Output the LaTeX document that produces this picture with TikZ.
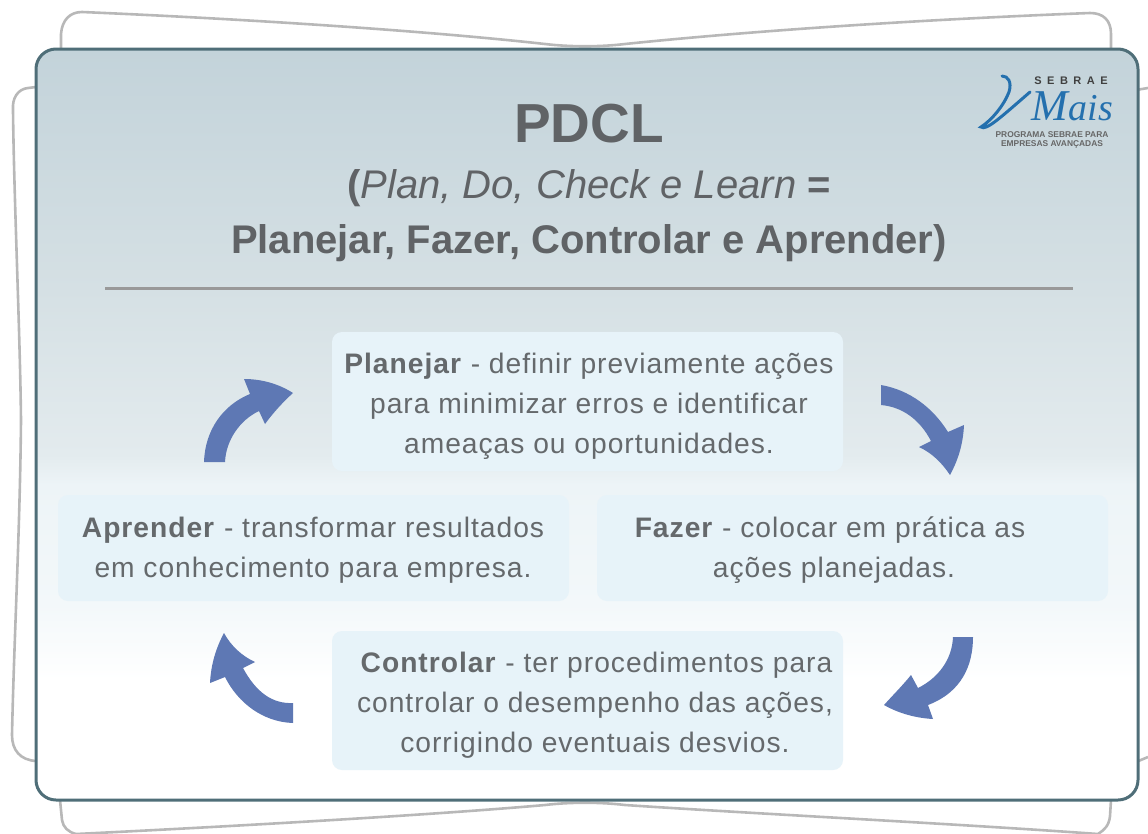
\documentclass[tikz,border=0pt]{standalone}
\usepackage{fontspec}
\setmainfont{Liberation Sans}
\newfontfamily\bodyf[LetterSpace=3.5]{Liberation Sans}
\newfontfamily\logof{Liberation Serif}
\definecolor{edgec}{HTML}{4F6E78}
\definecolor{backc}{HTML}{B8B8B8}
\definecolor{arrowc}{HTML}{5E78B4}
\definecolor{titlec}{HTML}{606366}
\definecolor{bodyc}{HTML}{65696C}
\definecolor{boxc}{HTML}{E7F3F9}
\definecolor{logoc}{HTML}{2470AE}
\definecolor{gA}{HTML}{F3F8FA}
\definecolor{gB}{HTML}{EDF4F7}
\definecolor{gC}{HTML}{E3EBEE}
\definecolor{gD}{HTML}{D5E0E4}
\definecolor{gE}{HTML}{C3D3DA}
\pgfdeclareverticalshading{cardshade}{100bp}{
 color(0bp)=(white); color(25bp)=(white); color(33bp)=(white);
 color(38bp)=(gA); color(46bp)=(gB); color(48bp)=(gC);
 color(59bp)=(gD); color(75bp)=(gE); color(100bp)=(gE)}
\tikzset{
 x=1pt,y=-1pt,
 backline/.style={draw=backc,line width=2.6pt,line join=round},
 cardbox/.style={fill=boxc,rounded corners=10pt},
 flow/.style={fill=arrowc},
 bodytext/.style={font=\bodyf\fontsize{28.2}{40}\selectfont,text=bodyc,align=center,inner sep=0pt},
}
\begin{document}
\begin{tikzpicture}
\useasboundingbox (0,0) rectangle (1148,833);
% back sheets
\draw[backline] (61,50) -- (61,34) .. controls (62,20) and (70,12) .. (82,12) .. controls (200,17) and (400,28) .. (545,44) .. controls (570,47) and (600,47) .. (625,44) .. controls (780,28) and (960,18) .. (1090,13) .. controls (1103,13) and (1111,20) .. (1111,34) -- (1111,50);
\draw[backline] (36,87) -- (28,88) .. controls (18,89) and (12,98) .. (13,110) .. controls (14,200) and (20,330) .. (21,420) .. controls (20,530) and (14,640) .. (12,735) .. controls (12,750) and (20,760) .. (36,761);
\draw[backline] (1136,90) -- (1148,88);
\draw[backline] (1136,762) -- (1148,757);
\draw[backline] (60,800) -- (62,820) .. controls (63,827) and (68,832) .. (76,834) .. controls (200,828) and (420,816) .. (545,805) .. controls (570,802) and (600,802) .. (625,805) .. controls (760,814) and (960,824) .. (1098,834) .. controls (1104,830) and (1109,826) .. (1110,816) -- (1111,800);
% main card
\shade[shading=cardshade,rounded corners=20pt] (36,49) rectangle (1138,800);
\draw[edgec,line width=3pt,rounded corners=20pt] (36,49) rectangle (1138,800);
% logo
\node[inner sep=0pt,font=\bfseries\fontsize{11}{12}\selectfont,text=black!75] (logoa) at (1071,81) {S\,\,\,E\,\,\,B\,\,\,R\,\,\,A\,\,\,E};
\node[inner sep=0pt,text=logoc,font=\logof\itshape,anchor=base east] (logob) at (1113,120) {{\fontsize{44}{44}\selectfont M}{\fontsize{38}{38}\selectfont ais}};
\draw[logoc,line width=3pt,line cap=round] (1002,76) .. controls (1008,76) and (1012,82) .. (1009,92) .. controls (1004,105) and (992,120) .. (981,127) .. controls (986,131) and (1000,118) .. (1030,92);
\node[inner sep=0pt,align=center,text=black!60,font=\bfseries\fontsize{8.4}{9}\selectfont] (logoc) at (1052,140) {PROGRAMA SEBRAE PARA\\EMPRESAS AVANÇADAS};
% title
\node[inner sep=0pt,text=titlec,font=\bfseries\fontsize{55}{60}\selectfont] (title) at (589,124) {PDCL};
\node[inner sep=0pt,text=titlec,font=\fontsize{40}{44}\selectfont] (sub) at (589,188) {\textbf{(}\textit{Plan, Do, Check e Learn} \textbf{=}};
\node[inner sep=0pt,text=titlec,font=\bfseries\fontsize{40}{44}\selectfont] (subb) at (589,243) {Planejar, Fazer, Controlar e Aprender)};
\coordinate (ruleL) at (105,288);
\coordinate (ruleR) at (1073,288);
\draw[gray!80,line width=3pt] (ruleL) -- (ruleR);
% boxes
\fill[cardbox] (332,332) rectangle (843,471);
\fill[cardbox] (58,495) rectangle (569,601);
\fill[cardbox] (597,495) rectangle (1108,601);
\fill[cardbox] (332,631) rectangle (843,770);
\node[bodytext] (plan) at (589,406) {\textbf{Planejar} - definir previamente ações\\para minimizar erros e identificar\\ameaças ou oportunidades.};
\node[bodytext] (learn) at (313,550) {\textbf{Aprender} - transformar resultados\\em conhecimento para empresa.};
\node[bodytext] (doit) at (830,550) {\textbf{Fazer} - colocar em prática as\\\hspace*{8pt}ações planejadas.};
\node[bodytext] (check) at (595,705) {\hspace*{3pt}\textbf{Controlar} - ter procedimentos para\\controlar o desempenho das ações,\\corrigindo eventuais desvios.};
% arrows
\fill[flow] (881,385) .. controls (910,390) and (933,408) .. (948,432) -- (964,425) .. controls (963,445) and (958,460) .. (950,475) .. controls (942,463) and (932,453) .. (919,447) -- (931,441) .. controls (920,420) and (903,407) .. (881,405) -- cycle;
\fill[flow] (973,637) .. controls (973,665) and (962,692) .. (928,705) -- (933,719) .. controls (915,718) and (898,713) .. (884,705) .. controls (893,695) and (903,685) .. (911,675) -- (918,688) .. controls (938,678) and (952,660) .. (953,637) -- cycle;
\fill[flow] (293,723) .. controls (263,722) and (238,703) .. (225,677) -- (210,683) .. controls (211,664) and (216,648) .. (224,633) .. controls (231,646) and (242,656) .. (255,662) -- (243,668) .. controls (256,692) and (272,704) .. (293,703) -- cycle;
\fill[flow] (204,462) .. controls (205,430) and (223,405) .. (250,394) -- (244,379) .. controls (262,379) and (279,384) .. (293,393) .. controls (283,402) and (273,413) .. (265,424) -- (259,411) .. controls (240,420) and (226,440) .. (225,462) -- cycle;
\end{tikzpicture}
\end{document}
